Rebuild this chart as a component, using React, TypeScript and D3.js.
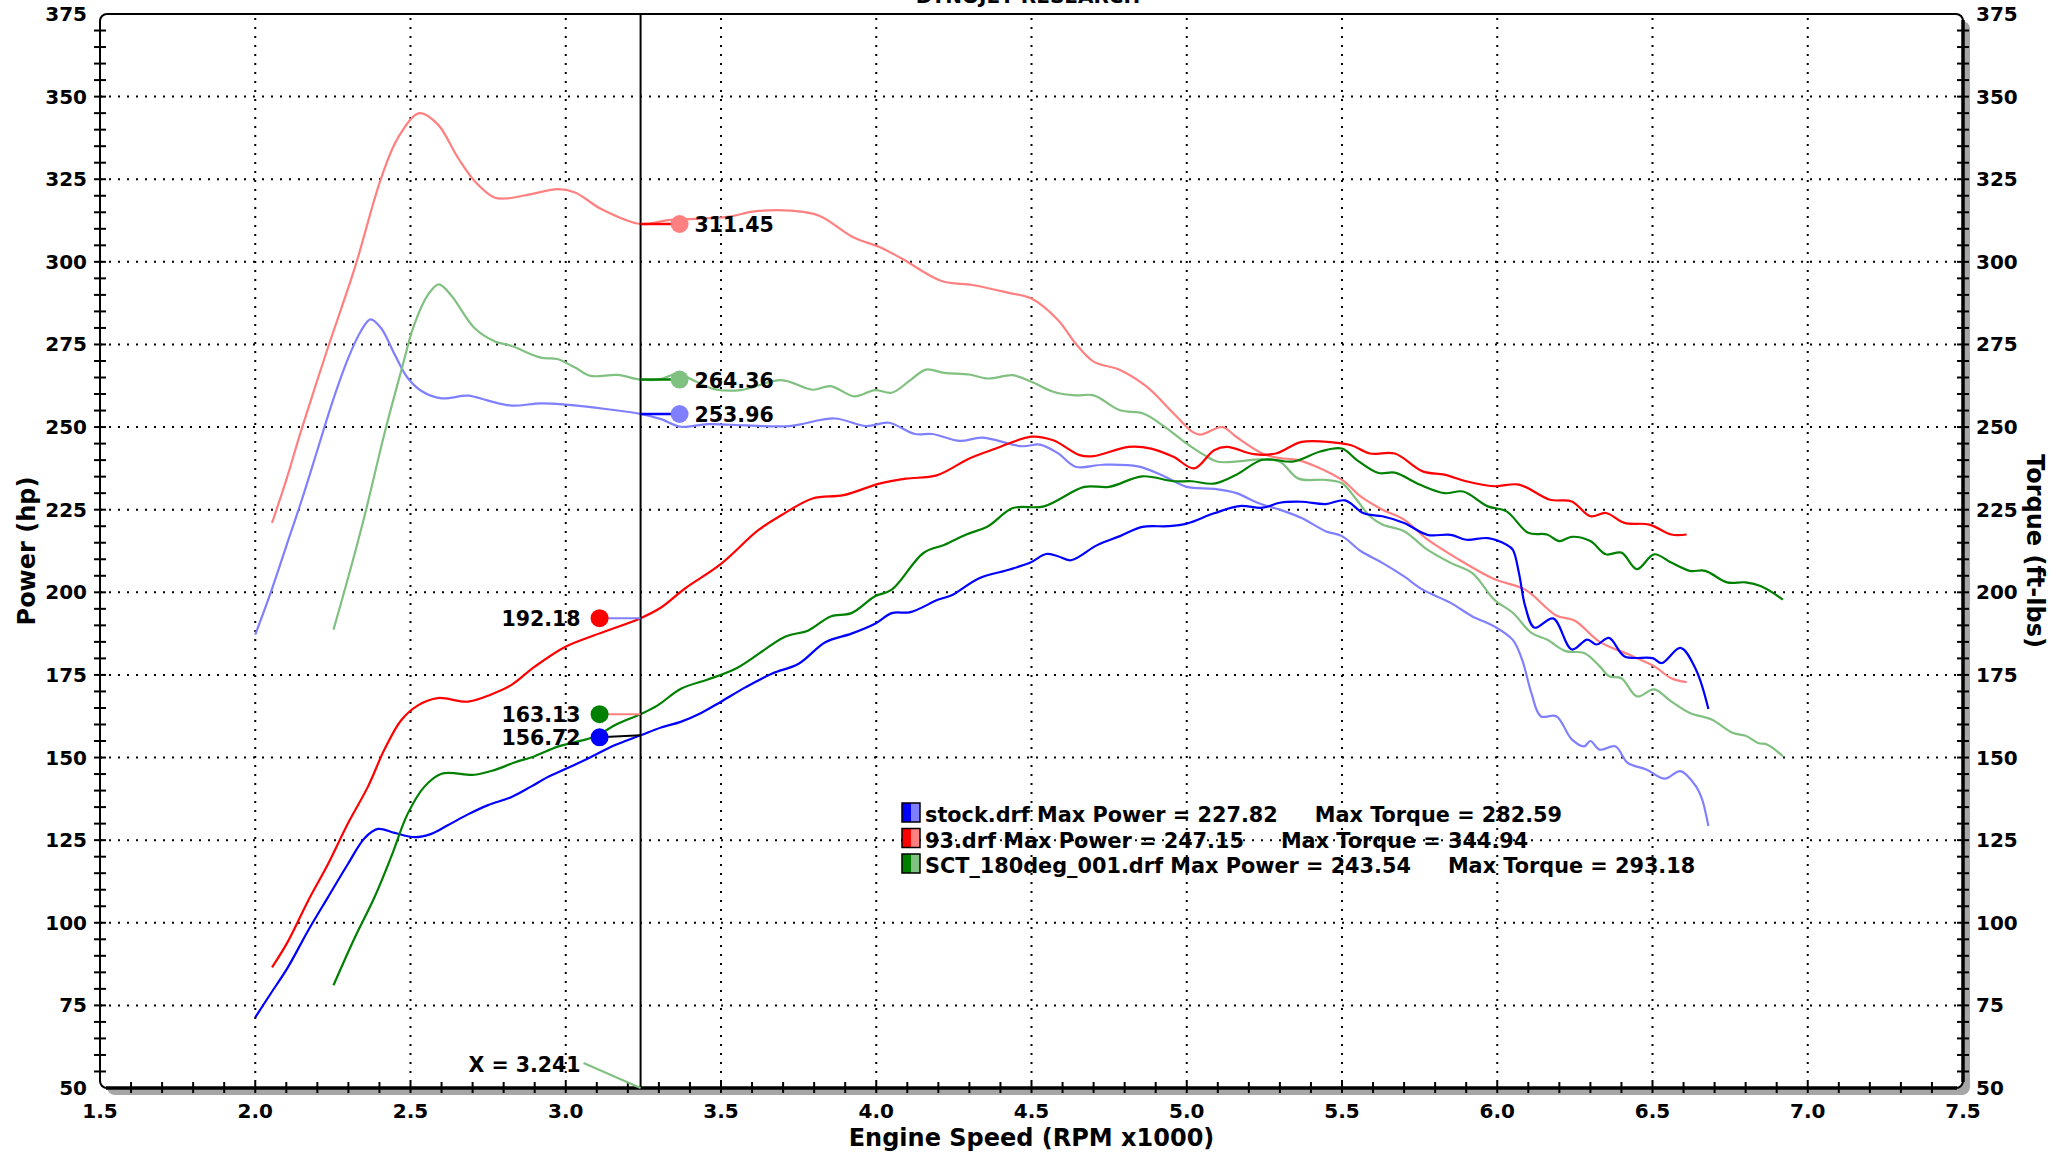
import React from "react";
import * as d3 from "d3";

// ---------- DATA ----------
type Pt = [number, number];

const stockPower: Pt[] = [[2.0,71.4],[2.05,78.6],[2.105,86.5],[2.17,97.6],[2.234,107.7],[2.298,117.7],[2.352,125.6],[2.395,128.4],[2.449,127.2],[2.513,125.9],[2.567,126.9],[2.62,129.5],[2.685,132.8],[2.75,135.6],[2.824,138],[2.888,141.2],[2.94,144],[3.006,146.8],[3.08,150.1],[3.157,153.7],[3.241,156.72],[3.307,159.1],[3.37,160.8],[3.436,163.5],[3.5,166.9],[3.58,171.3],[3.665,175.4],[3.75,178.4],[3.836,184.9],[3.92,187.5],[3.996,190.5],[4.05,193.7],[4.11,194],[4.2,197.8],[4.243,199.1],[4.33,204.2],[4.43,206.9],[4.5,209.2],[4.547,211.6],[4.585,210.9],[4.627,209.7],[4.71,214.2],[4.785,217],[4.857,219.8],[4.94,220],[5.0,220.8],[5.088,223.9],[5.17,226.1],[5.244,225.6],[5.3,227.1],[5.37,227.4],[5.447,226.7],[5.51,227.8],[5.57,223.9],[5.63,223],[5.70,221],[5.775,217.4],[5.85,217.4],[5.90,215.9],[5.97,216.4],[6.03,214.4],[6.05,212.9],[6.07,205.8],[6.09,195.8],[6.12,189.3],[6.18,192.1],[6.24,182.7],[6.29,185.7],[6.32,184.2],[6.36,186.2],[6.41,180.6],[6.50,180.1],[6.53,178.6],[6.59,183.2],[6.64,176.6],[6.68,164.7]];

const stockTorque: Pt[] = [[2.0,187.2],[2.05,200],[2.1,214],[2.15,228],[2.2,243],[2.25,258],[2.3,271],[2.34,279],[2.371,282.6],[2.405,280],[2.449,272],[2.49,265],[2.534,261],[2.6,258.7],[2.685,259.5],[2.75,258],[2.825,256.5],[2.92,257.2],[3.0,256.8],[3.135,255.4],[3.241,253.96],[3.307,252.4],[3.37,250.1],[3.457,250.9],[3.58,250.5],[3.72,250.3],[3.866,252.6],[3.967,250.3],[4.04,251.3],[4.125,247.9],[4.18,247.9],[4.27,245.8],[4.34,246.8],[4.47,244.2],[4.527,244.7],[4.585,242.1],[4.642,238],[4.73,238.6],[4.843,238.1],[4.93,235],[5.0,231.9],[5.088,231.3],[5.16,230],[5.23,227],[5.3,225],[5.37,222.5],[5.447,218.5],[5.5,217],[5.56,212.5],[5.63,208.9],[5.70,204.8],[5.76,200.8],[5.85,196.8],[5.92,192.7],[5.99,189.7],[6.05,185.6],[6.08,179.6],[6.11,169.5],[6.14,162.5],[6.19,162.5],[6.24,155.5],[6.28,153.4],[6.30,155],[6.33,152.4],[6.38,153.4],[6.42,148.4],[6.48,146.4],[6.54,143.6],[6.59,145.9],[6.64,141.3],[6.66,137.3],[6.68,129.3]];

const p93Power: Pt[] = [[2.054,86.5],[2.105,94.3],[2.17,106.6],[2.234,117.7],[2.298,130],[2.363,141.2],[2.416,152.4],[2.47,161.3],[2.524,165.8],[2.588,168],[2.685,166.9],[2.76,169.1],[2.824,171.9],[2.9,177.5],[2.996,183.4],[3.092,187],[3.241,192.18],[3.307,195.4],[3.382,201],[3.5,208.6],[3.62,218.8],[3.694,223.3],[3.795,228.4],[3.895,229.4],[4.01,232.9],[4.095,234.4],[4.195,235.4],[4.3,240.5],[4.385,243.5],[4.5,247.1],[4.57,246],[4.655,241.5],[4.7,241.2],[4.813,244],[4.885,243.5],[4.957,241],[5.024,237.5],[5.088,243],[5.13,244],[5.216,241.8],[5.287,242],[5.37,245.5],[5.476,245.3],[5.53,244.5],[5.59,242],[5.67,242],[5.76,236.6],[5.83,235.6],[5.90,233.6],[5.99,232.1],[6.07,232.6],[6.17,228],[6.24,227.5],[6.30,223],[6.35,224],[6.41,221],[6.49,220.5],[6.56,217.5],[6.61,217.5]];

const p93Torque: Pt[] = [[2.054,221],[2.1,234],[2.148,249],[2.234,274],[2.32,298],[2.406,325.5],[2.46,337.6],[2.529,345],[2.588,341.6],[2.652,331.6],[2.706,324.5],[2.77,319.5],[2.81,319.2],[2.888,320.5],[2.974,322],[3.03,321],[3.114,316],[3.241,311.45],[3.33,312.6],[3.435,313.1],[3.52,313.6],[3.62,315.4],[3.766,315.1],[3.825,313.6],[3.924,307.5],[4.01,304.5],[4.082,301],[4.21,294.2],[4.31,293],[4.427,290.6],[4.5,288.9],[4.585,282.4],[4.642,275.3],[4.7,269.8],[4.785,267.3],[4.87,262.3],[4.957,254.2],[5.016,248.7],[5.044,247.7],[5.115,250],[5.16,247],[5.244,242],[5.3,240.6],[5.36,240],[5.5,234],[5.56,229],[5.63,225],[5.70,222],[5.775,216],[5.875,210],[5.99,204],[6.09,200.8],[6.19,193],[6.25,191.4],[6.33,185],[6.42,181.3],[6.506,177.6],[6.56,174],[6.61,172.8]];

const sctPower: Pt[] = [[2.252,81.1],[2.32,95.4],[2.384,107.7],[2.438,120],[2.49,132.8],[2.545,141.2],[2.6,145.1],[2.706,144.8],[2.77,146.2],[2.835,148.5],[2.9,150.4],[2.974,153.3],[3.028,154.6],[3.092,156.3],[3.167,160.2],[3.241,163.13],[3.296,165.8],[3.371,170.8],[3.457,173.6],[3.55,177],[3.708,186.6],[3.78,188.4],[3.853,192.7],[3.92,193.7],[3.996,198.8],[4.05,200.8],[4.152,211.9],[4.22,214.4],[4.29,217.5],[4.36,220],[4.44,225.5],[4.54,226],[4.67,231.9],[4.75,231.9],[4.857,235.1],[4.958,233.6],[5.016,233.6],[5.088,232.9],[5.16,235.6],[5.244,240.1],[5.345,239.6],[5.43,242.6],[5.5,243.5],[5.547,240.1],[5.618,236.1],[5.67,236.2],[5.75,232.6],[5.83,230],[5.89,230.5],[5.97,226],[6.03,224.5],[6.10,218],[6.16,217.5],[6.20,215.5],[6.24,216.8],[6.30,215.5],[6.35,211.5],[6.40,212],[6.45,207],[6.505,211.5],[6.56,209],[6.62,206.5],[6.67,206.5],[6.74,203],[6.80,203],[6.85,201.8],[6.92,197.8]];

const sctTorque: Pt[] = [[2.252,188.7],[2.277,197],[2.32,211.6],[2.357,225],[2.416,248],[2.47,267],[2.512,281],[2.556,290],[2.591,293.2],[2.63,290],[2.706,280],[2.77,276],[2.824,274.6],[2.92,271],[2.973,270.6],[3.03,268],[3.08,265.5],[3.167,265.8],[3.241,264.36],[3.307,264.5],[3.36,266.2],[3.414,264],[3.478,261.5],[3.565,261.2],[3.694,264.2],[3.795,261.3],[3.853,262.4],[3.93,259.3],[3.996,261.2],[4.05,260.4],[4.11,264.2],[4.16,267.4],[4.22,266.4],[4.3,265.9],[4.36,264.7],[4.44,265.7],[4.5,263.7],[4.57,260.7],[4.64,259.6],[4.7,259.6],[4.785,255.1],[4.86,254.1],[4.93,250],[5.0,245],[5.057,241.5],[5.1,239.5],[5.244,240.2],[5.3,239.5],[5.36,234.4],[5.447,234],[5.5,233],[5.547,228],[5.59,223],[5.63,220.5],[5.7,218.5],[5.775,212.9],[5.85,208.9],[5.92,205.8],[5.99,197.8],[6.05,193.8],[6.11,187.7],[6.16,185.7],[6.22,182.2],[6.28,181.6],[6.33,177.6],[6.36,174.6],[6.40,174],[6.45,168.5],[6.505,170.6],[6.56,167],[6.62,163.5],[6.69,161.5],[6.76,157.4],[6.80,156.6],[6.84,154.4],[6.87,153.9],[6.92,150.4]];

const runNames = ["stock.drf", "93.drf", "SCT_180deg_001.drf"];
const runMaxPower = ["227.82", "247.15", "243.54"];
const runMaxTorque = ["282.59", "344.94", "293.18"];
const darkColors = ["#0000ff", "#ff0000", "#008000"];
const lightColors = ["#8080ff", "#ff8080", "#80c080"];

const cursorRpm = 3.241;
const cursorLabel = "X = 3.241";
const torqueTagValues = [311.45, 264.36, 253.96];
const torqueTagDot = ["#ff8080", "#80c080", "#8080ff"];
const torqueTagLead = ["#ff0000", "#008000", "#0000ff"];
const powerTagValues = [192.18, 163.13, 156.72];
const powerTagDot = ["#ff0000", "#008000", "#0000ff"];
const powerTagLead = ["#8080ff", "#ff8080", "#000000"];

const xDomain: [number, number] = [1.5, 7.5];
const yDomain: [number, number] = [50, 375];

// ---------- LAYOUT ----------
const W = 2059, H = 1157;
const L = 100, R = 1963, T = 14, B = 1088;
const FONT = "'DejaVu Sans', Verdana, sans-serif";

export default function App() {
  const x = d3.scaleLinear().domain(xDomain).range([L, R]);
  const y = d3.scaleLinear().domain(yDomain).range([B, T]);
  const line = d3.line<Pt>().x(d => x(d[0])).y(d => y(d[1])).curve(d3.curveCatmullRom.alpha(0.5));

  const xTicks = d3.range(15, 76).map(v => v / 10);
  const xMajor = d3.range(15, 76, 5).map(v => v / 10);
  const yTicks = d3.range(50, 376, 5);
  const yMajor = d3.range(50, 376, 25);

  const series = [
    { d: stockTorque, c: lightColors[0] },
    { d: p93Torque, c: lightColors[1] },
    { d: sctTorque, c: lightColors[2] },
    { d: stockPower, c: darkColors[0] },
    { d: p93Power, c: darkColors[1] },
    { d: sctPower, c: darkColors[2] },
  ];

  const cx = x(cursorRpm);
  const fmt = d3.format(".1f");

  return (
    <svg width={W} height={H} style={{ position: "absolute", left: 0, top: 0, display: "block", background: "#fff" }} fontFamily={FONT}>
      <rect x={0} y={0} width={W} height={H} fill="#fff" />
      {/* title (cut off at top in the reference) */}
      <text x={1028} y={3} textAnchor="middle" fontSize={20} fontWeight="bold">DYNOJET RESEARCH</text>

      {/* shadow + frame */}
      <rect x={L + 7} y={T + 7} width={R - L} height={B - T} rx={8} fill="#a6a6a6" />
      <rect x={L} y={T} width={R - L} height={B - T} rx={7} fill="#fff" stroke="#000" strokeWidth={2} />

      {/* grid */}
      <g stroke="#000" strokeWidth={2} strokeDasharray="2 7">
        {xMajor.filter(v => v > 1.5 && v < 7.5).map(v => (
          <line key={"gx" + v} x1={x(v)} x2={x(v)} y1={T + 4} y2={B} />
        ))}
        {yMajor.filter(v => v > 50 && v < 375).map(v => (
          <line key={"gy" + v} x1={L} x2={R} y1={y(v)} y2={y(v)} />
        ))}
      </g>

      {/* axes lines */}
      <line x1={L + 6} x2={R - 6} y1={B} y2={B} stroke="#000" strokeWidth={3.5} />
      <line x1={R} x2={R} y1={T + 6} y2={B - 6} stroke="#000" strokeWidth={3.5} />
      <line x1={L} x2={L} y1={T + 6} y2={B - 6} stroke="#000" strokeWidth={2} />

      {/* ticks */}
      <g stroke="#000" strokeWidth={2}>
        {yTicks.filter(v => v > 50 && v < 375).map(v => (
          <g key={"ty" + v}>
            <line x1={L - 6} x2={L + 6} y1={y(v)} y2={y(v)} />
            <line x1={R - 6} x2={R + 6} y1={y(v)} y2={y(v)} />
          </g>
        ))}
        {xTicks.filter(v => v > 1.55 && v < 7.45).map(v => (
          <line key={"tx" + v} x1={x(v)} x2={x(v)} y1={B - 6} y2={B + 5} />
        ))}
      </g>

      {/* tick labels */}
      <g fontSize={20} fontWeight="bold" fill="#000">
        {yMajor.map(v => (
          <text key={"ly" + v} x={L - 13} y={y(v) + 7} textAnchor="end">{v}</text>
        ))}
        {yMajor.map(v => (
          <text key={"ry" + v} x={R + 13} y={y(v) + 7} textAnchor="start">{v}</text>
        ))}
        {xMajor.map(v => (
          <text key={"lx" + v} x={x(v)} y={B + 30} textAnchor="middle">{fmt(v)}</text>
        ))}
      </g>

      {/* axis titles */}
      <text x={(L + R) / 2} y={1146} textAnchor="middle" fontSize={24} fontWeight="bold">Engine Speed (RPM x1000)</text>
      <text transform={`translate(35,${(T + B) / 2}) rotate(-90)`} textAnchor="middle" fontSize={24} fontWeight="bold">Power (hp)</text>
      <text transform={`translate(2027,${(T + B) / 2}) rotate(90)`} textAnchor="middle" fontSize={24} fontWeight="bold">Torque (ft-lbs)</text>

      {/* curves */}
      <g fill="none" strokeWidth={2.2} strokeLinejoin="round">
        {series.map((s, i) => (
          <path key={"s" + i} d={line(s.d) || ""} stroke={s.c} />
        ))}
      </g>

      {/* cursor */}
      <line x1={cx} x2={cx} y1={T} y2={B} stroke="#000" strokeWidth={2} />
      <line x1={cx - 57} y1={B - 25} x2={cx} y2={B} stroke="#80c080" strokeWidth={2} />
      <text x={cx - 60} y={B - 16} textAnchor="end" fontSize={20.5} fontWeight="bold">{cursorLabel}</text>

      {/* torque tags */}
      {torqueTagValues.map((v, i) => (
        <g key={"tt" + i}>
          <line x1={cx} x2={cx + 39} y1={y(v)} y2={y(v)} stroke={torqueTagLead[i]} strokeWidth={2.5} />
          <circle cx={cx + 39} cy={y(v)} r={9} fill={torqueTagDot[i]} />
          <text x={cx + 54} y={y(v) + 8} fontSize={20.5} fontWeight="bold">{v.toFixed(2)}</text>
        </g>
      ))}
      {/* power tags */}
      {powerTagValues.map((v, i) => (
        <g key={"pt" + i}>
          <line x1={cx} x2={cx - 41} y1={y(v)} y2={y(v) + (i === 2 ? 2 : 0)} stroke={powerTagLead[i]} strokeWidth={2} />
          <circle cx={cx - 41} cy={y(v) + (i === 2 ? 2 : 0)} r={9} fill={powerTagDot[i]} />
          <text x={cx - 60} y={y(v) + 8 + (i === 2 ? 2 : 0)} textAnchor="end" fontSize={20.5} fontWeight="bold">{v.toFixed(2)}</text>
        </g>
      ))}

      {/* legend */}
      {runNames.map((n, i) => {
        const ty = 822 + i * 25.5;
        return (
          <g key={"lg" + i}>
            <rect x={902} y={ty - 19} width={9} height={19} fill={darkColors[i]} />
            <rect x={911} y={ty - 19} width={9} height={19} fill={lightColors[i]} />
            <rect x={902} y={ty - 19} width={18} height={19} fill="none" stroke="#000" strokeWidth={1.5} />
            <text x={925} y={ty} fontSize={20.8} fontWeight="bold">
              {`${n} Max Power = ${runMaxPower[i]}`}
              <tspan dx={37}>{`Max Torque = ${runMaxTorque[i]}`}</tspan>
            </text>
          </g>
        );
      })}
    </svg>
  );
}
